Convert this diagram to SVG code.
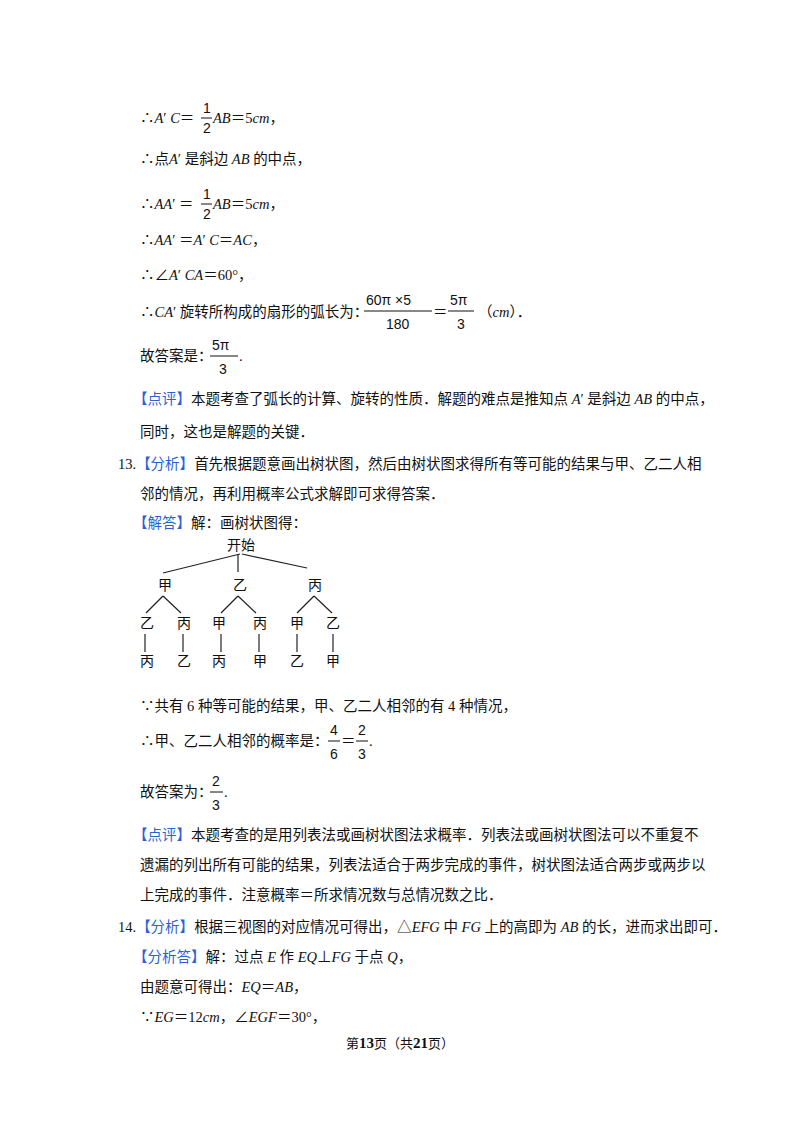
<svg xmlns="http://www.w3.org/2000/svg" width="800" height="1132" viewBox="0 0 800 1132">
<style>
text{font-family:"Liberation Serif","Noto Sans CJK SC",serif;font-size:14.5px;fill:#111}
.i{font-style:italic}
.b{fill:#2c5fd4}
.s{font-family:"Liberation Sans","Noto Sans CJK SC",sans-serif;font-size:14px}
.t{font-family:"Noto Sans CJK SC",sans-serif;font-size:14px;text-anchor:middle}
line{stroke:#222;stroke-width:1.2}
.fl{stroke:#111;stroke-width:1}
</style>
<rect width="800" height="1132" fill="#fff"/>
<g id="text">
<text x="140" y="123">∴<tspan class="i">A</tspan>′ <tspan class="i">C</tspan>＝</text>
<text class="s" x="203" y="113">1</text><line class="fl" x1="201" y1="118" x2="212" y2="118"/><text class="s" x="203" y="133">2</text>
<text x="213" y="123"><tspan class="i">AB</tspan>＝5<tspan class="i">cm</tspan>，</text>
<text x="140" y="164">∴点<tspan class="i">A</tspan>′ 是斜边 <tspan class="i">AB</tspan> 的中点，</text>
<text x="140" y="209">∴<tspan class="i">AA</tspan>′ ＝</text>
<text class="s" x="203" y="199">1</text><line class="fl" x1="201" y1="204" x2="212" y2="204"/><text class="s" x="203" y="219">2</text>
<text x="213" y="209"><tspan class="i">AB</tspan>＝5<tspan class="i">cm</tspan>，</text>
<text x="140" y="245">∴<tspan class="i">AA</tspan>′ ＝<tspan class="i">A</tspan>′ <tspan class="i">C</tspan>＝<tspan class="i">AC</tspan>，</text>
<text x="140" y="280">∴∠<tspan class="i">A</tspan>′ <tspan class="i">CA</tspan>＝60°，</text>
<text x="140" y="317">∴<tspan class="i">CA</tspan>′ 旋转所构成的扇形的弧长为：</text>
<text class="s" x="366" y="305">60π ×5</text><line class="fl" x1="364" y1="311" x2="432" y2="311"/><text class="s" x="386" y="329">180</text>
<text x="433" y="317">＝</text>
<text class="s" x="450" y="305">5π</text><line class="fl" x1="448" y1="311" x2="474" y2="311"/><text class="s" x="457" y="329">3</text>
<text x="478" y="317">（<tspan class="i">cm</tspan>）．</text>
<text x="140" y="361">故答案是：</text>
<text class="s" x="212" y="350">5π</text><line class="fl" x1="210" y1="356" x2="238" y2="356"/><text class="s" x="219" y="374">3</text>
<text x="239" y="361">.</text>
<text x="133" y="404"><tspan class="b">【点评】</tspan>本题考查了弧长的计算、旋转的性质．解题的难点是推知点 <tspan class="i">A</tspan>′ 是斜边 <tspan class="i">AB</tspan> 的中点，</text>
<text x="140" y="437">同时，这也是解题的关键．</text>
<text x="118" y="469">13.<tspan class="b">【分析】</tspan>首先根据题意画出树状图，然后由树状图求得所有等可能的结果与甲、乙二人相</text>
<text x="140" y="499">邻的情况，再利用概率公式求解即可求得答案．</text>
<text x="133" y="528"><tspan class="b">【解答】</tspan>解：画树状图得：</text>
<text x="140" y="711">∵共有 6 种等可能的结果，甲、乙二人相邻的有 4 种情况，</text>
<text x="140" y="746">∴甲、乙二人相邻的概率是：</text>
<text class="s" x="330" y="735">4</text><line class="fl" x1="328" y1="741" x2="340" y2="741"/><text class="s" x="330" y="759">6</text>
<text x="341" y="746">＝</text>
<text class="s" x="358" y="735">2</text><line class="fl" x1="356" y1="741" x2="368" y2="741"/><text class="s" x="358" y="759">3</text>
<text x="369" y="746">.</text>
<text x="140" y="797">故答案为：</text>
<text class="s" x="212" y="786">2</text><line class="fl" x1="210" y1="792" x2="223" y2="792"/><text class="s" x="212" y="810">3</text>
<text x="224" y="797">.</text>
<text x="133" y="840"><tspan class="b">【点评】</tspan>本题考查的是用列表法或画树状图法求概率．列表法或画树状图法可以不重复不</text>
<text x="140" y="870">遗漏的列出所有可能的结果，列表法适合于两步完成的事件，树状图法适合两步或两步以</text>
<text x="140" y="900">上完成的事件．注意概率＝所求情况数与总情况数之比．</text>
<text x="118" y="932">14.<tspan class="b">【分析】</tspan>根据三视图的对应情况可得出，△<tspan class="i">EFG</tspan> 中 <tspan class="i">FG</tspan> 上的高即为 <tspan class="i">AB</tspan> 的长，进而求出即可．</text>
<text x="133" y="962"><tspan class="b">【分析答】</tspan>解：过点 <tspan class="i">E</tspan> 作 <tspan class="i">EQ</tspan>⊥<tspan class="i">FG</tspan> 于点 <tspan class="i">Q</tspan>，</text>
<text x="140" y="992">由题意可得出：<tspan class="i">EQ</tspan>＝<tspan class="i">AB</tspan>，</text>
<text x="140" y="1022">∵<tspan class="i">EG</tspan>＝12<tspan class="i">cm</tspan>，∠<tspan class="i">EGF</tspan>＝30°，</text>
<text x="400" y="1048" style="text-anchor:middle;font-size:13px">第<tspan style="font-weight:bold;font-size:15px">13</tspan>页（共<tspan style="font-weight:bold;font-size:15px">21</tspan>页）</text>
</g>
<g id="tree-nodes">
<g id="n0"><text class="t" x="241" y="550">开始</text></g>
<g id="n1"><text class="t" x="165" y="590">甲</text></g>
<g id="n2"><text class="t" x="240" y="590">乙</text></g>
<g id="n3"><text class="t" x="315" y="590">丙</text></g>
<g id="n4"><text class="t" x="147" y="628">乙</text></g>
<g id="n5"><text class="t" x="184" y="628">丙</text></g>
<g id="n6"><text class="t" x="219" y="628">甲</text></g>
<g id="n7"><text class="t" x="260" y="628">丙</text></g>
<g id="n8"><text class="t" x="297" y="628">甲</text></g>
<g id="n9"><text class="t" x="333" y="628">乙</text></g>
<g id="n10"><text class="t" x="147" y="666">丙</text></g>
<g id="n11"><text class="t" x="184" y="666">乙</text></g>
<g id="n12"><text class="t" x="219" y="666">丙</text></g>
<g id="n13"><text class="t" x="260" y="666">甲</text></g>
<g id="n14"><text class="t" x="297" y="666">乙</text></g>
<g id="n15"><text class="t" x="333" y="666">甲</text></g>
</g>
<g id="connectors">
<line x1="240" y1="554" x2="163" y2="573"/>
<line x1="238" y1="554" x2="238" y2="572"/>
<line x1="242" y1="554" x2="307" y2="568"/>
<line x1="163" y1="596" x2="146" y2="613"/>
<line x1="163" y1="596" x2="181" y2="613"/>
<line x1="238" y1="596" x2="221" y2="613"/>
<line x1="238" y1="596" x2="256" y2="613"/>
<line x1="314" y1="596" x2="297" y2="613"/>
<line x1="314" y1="596" x2="332" y2="613"/>
<line x1="145" y1="634" x2="145" y2="652"/>
<line x1="183" y1="634" x2="183" y2="652"/>
<line x1="221" y1="634" x2="221" y2="652"/>
<line x1="259" y1="634" x2="259" y2="652"/>
<line x1="297" y1="634" x2="297" y2="652"/>
<line x1="333" y1="634" x2="333" y2="652"/>
</g>
</svg>
